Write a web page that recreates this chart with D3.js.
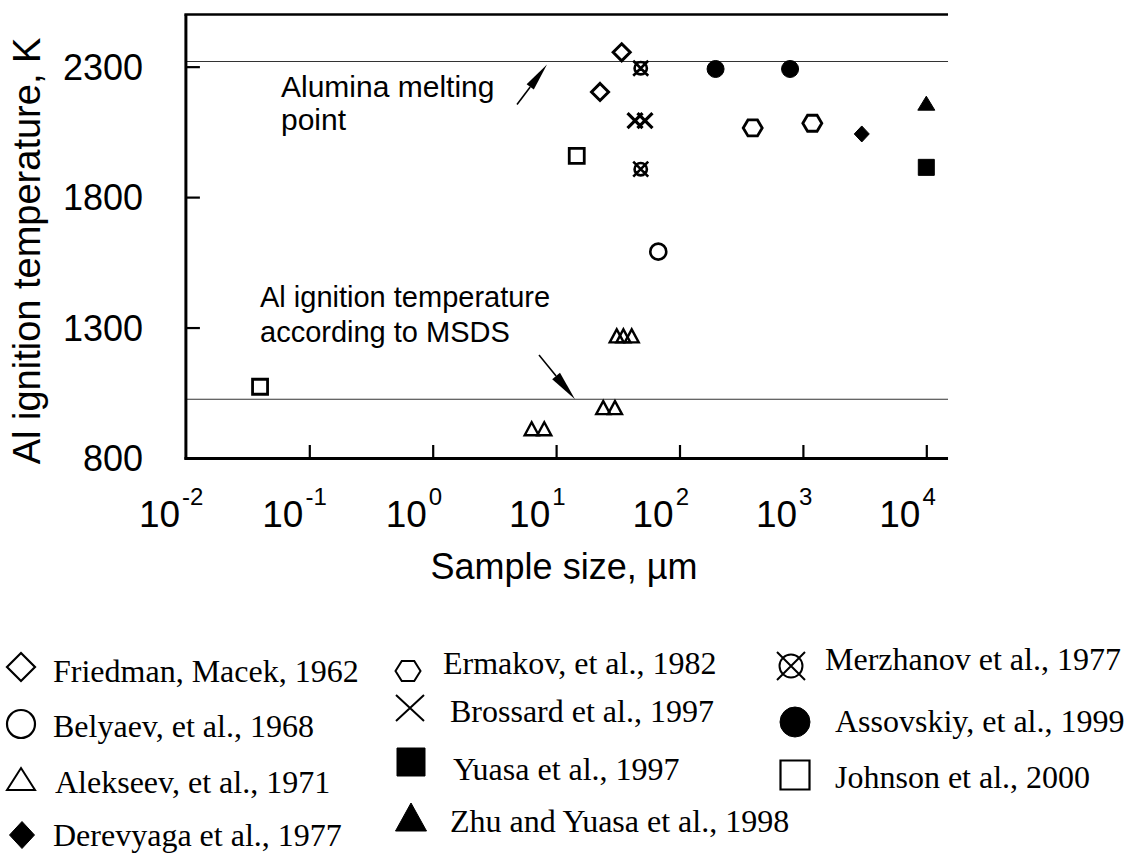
<!DOCTYPE html>
<html><head><meta charset="utf-8">
<script src="https://cdn.jsdelivr.net/npm/d3@7"></script>
<style>body{margin:0;background:#fff}svg{display:block}</style>
</head><body><svg id="c" width="1131" height="853"></svg>
<script>
// ---------------- data ----------------
const xTickValues = [0.01, 0.1, 1, 10, 100, 1000, 10000];
const xTickExponents = ["-2", "-1", "0", "1", "2", "3", "4"];
const yTickValues = [800, 1300, 1800, 2300];
const yTickLabels = ["800", "1300", "1800", "2300"];

const friedman  = [[34, 2355], [22.7, 2203]];
const belyaev   = [[67.3, 1591]];
const alekseev  = [[31, 1268], [35.1, 1268], [41, 1268], [24.1, 993], [30, 993], [6.34, 912], [8.02, 912]];
const derevyaga = [[3000, 2042]];
const ermakov   = [[392, 2065], [1192, 2083]];
const brossard  = [[43.6, 2093], [52.5, 2093]];
const yuasa     = [[10000, 1914]];
const zhu       = [[10000, 2160]];
const merzhanov = [[48.5, 2294], [48.5, 1907]];
const assovskiy = [[196, 2291], [787, 2291]];
const johnson   = [[14.7, 1958], [0.0399, 1073]];

const aluminaMelting = 2320;
const msdsIgnition = 1025;

const seriesNames = ["Friedman, Macek, 1962", "Belyaev, et al., 1968", "Alekseev, et al., 1971", "Derevyaga et al., 1977",
  "Ermakov, et al., 1982", "Brossard et al., 1997", "Yuasa et al., 1997", "Zhu and Yuasa et al., 1998",
  "Merzhanov et al., 1977", "Assovskiy, et al., 1999", "Johnson et al., 2000"];
const seriesData = [friedman, belyaev, alekseev, derevyaga, ermakov, brossard, yuasa, zhu, merzhanov, assovskiy, johnson];

// ---------------- styles / layout ----------------
const seriesStyle = [
  {shape: "diamond", filled: false, w: 17, h: 17, sw: 3},
  {shape: "circle", filled: false, w: 16, h: 16, sw: 2.6},
  {shape: "triangle", filled: false, w: 14, h: 13, sw: 2.4},
  {shape: "diamond", filled: true, w: 15, h: 16, sw: 1},
  {shape: "hexagon", filled: false, w: 19, h: 16, sw: 2.8},
  {shape: "x", filled: false, w: 15, h: 15, sw: 3.2},
  {shape: "square", filled: true, w: 16, h: 16, sw: 1},
  {shape: "triangle", filled: true, w: 17, h: 14, sw: 1},
  {shape: "xcircle", filled: false, w: 15, h: 15, sw: 2.6},
  {shape: "circle", filled: true, w: 17, h: 16, sw: 1},
  {shape: "square", filled: false, w: 15, h: 15, sw: 2.8}
];
const legendStyle = [
  {w: 28, h: 28, sw: 2.2, sx: 21, sy: 667, tx: 53, ty: 682},
  {w: 28, h: 28, sw: 2.2, sx: 21, sy: 724, tx: 53, ty: 737},
  {w: 28, h: 22, sw: 2.0, sx: 21, sy: 779, tx: 55, ty: 793},
  {w: 25, h: 27, sw: 1, sx: 22, sy: 835, tx: 53, ty: 846},
  {w: 25, h: 20, sw: 2.0, sx: 408, sy: 671, tx: 443, ty: 674},
  {w: 28, h: 26, sw: 2.0, sx: 410, sy: 708, tx: 450, ty: 722},
  {w: 28, h: 28, sw: 1, sx: 411, sy: 762, tx: 453, ty: 780},
  {w: 31, h: 28, sw: 1, sx: 411, sy: 817, tx: 450, ty: 832},
  {w: 28, h: 28, sw: 2.0, sx: 791, sy: 666, tx: 825, ty: 670},
  {w: 30, h: 30, sw: 1, sx: 795, sy: 722, tx: 835, ty: 732},
  {w: 29, h: 29, sw: 2.2, sx: 795, sy: 775, tx: 835, ty: 788}
];

const svg = d3.select("#c");
const left = 185.9, decade = 123.4, bottom = 458, kpx = 0.2609;
const x = d3.scaleLog().domain([0.01, 15000]).range([left, left + Math.log10(1.5e6) * decade]);
const y = d3.scaleLinear().domain([800, 2500]).range([bottom, bottom - 1700 * kpx]);
const [x0, x1] = x.range();
const yTop = y(2500);

function shapePath(shape, w, h) {
  const p = d3.path();
  const a = w / 2, b = h / 2;
  if (shape === "diamond") { p.moveTo(0, -b); p.lineTo(a, 0); p.lineTo(0, b); p.lineTo(-a, 0); p.closePath(); }
  else if (shape === "triangle") { p.moveTo(0, -b); p.lineTo(a, b); p.lineTo(-a, b); p.closePath(); }
  else if (shape === "square") { p.rect(-a, -b, w, h); }
  else if (shape === "hexagon") { p.moveTo(-a, 0); p.lineTo(-a / 2, -b); p.lineTo(a / 2, -b); p.lineTo(a, 0); p.lineTo(a / 2, b); p.lineTo(-a / 2, b); p.closePath(); }
  else if (shape === "circle") { p.moveTo(a, 0); p.arc(0, 0, a, 0, 2 * Math.PI); p.closePath(); }
  else if (shape === "x") { p.moveTo(-a, -b); p.lineTo(a, b); p.moveTo(a, -b); p.lineTo(-a, b); }
  else if (shape === "xcircle") { const r = a * 0.82; p.moveTo(r, 0); p.arc(0, 0, r, 0, 2 * Math.PI); p.closePath();
    p.moveTo(-a, -b); p.lineTo(a, b); p.moveTo(a, -b); p.lineTo(-a, b); }
  return p.toString();
}
function drawSymbol(g, st, w, h, sw) {
  g.append("path").attr("d", shapePath(st.shape, w, h))
    .attr("fill", st.filled ? "#000" : "none")
    .attr("stroke", "#000").attr("stroke-width", sw).attr("stroke-linejoin", "miter");
}

// reference lines
[aluminaMelting, msdsIgnition].forEach(v => {
  svg.append("line").attr("x1", x0).attr("x2", x1).attr("y1", y(v)).attr("y2", y(v))
    .attr("stroke", "#333").attr("stroke-width", 1.1);
});

// axes
const gx = svg.append("g").attr("transform", `translate(0,${bottom})`)
  .call(d3.axisBottom(x).tickValues(xTickValues.slice(1)).tickSizeInner(-13).tickSizeOuter(0).tickFormat(""));
gx.select(".domain").attr("stroke-width", 3).attr("d", `M${x0 - 1.5},0.5H${x1}`);
gx.selectAll(".tick line").attr("stroke-width", 2.2);

const gy = svg.append("g").attr("transform", `translate(${left},0)`)
  .call(d3.axisLeft(y).tickValues(yTickValues.slice(1)).tickSizeInner(-14).tickSizeOuter(0).tickFormat(""));
gy.select(".domain").attr("stroke-width", 3).attr("d", `M0,${yTop}V${bottom + 1.5}`);
gy.selectAll(".tick line").attr("stroke-width", 2.2);

svg.append("line").attr("x1", left - 1.5).attr("x2", x1).attr("y1", yTop).attr("y2", yTop)
  .attr("stroke", "#000").attr("stroke-width", 2.6);

// tick labels
const font = "Liberation Sans, Arial, Helvetica, sans-serif";
xTickValues.forEach((v, i) => {
  const t = svg.append("text").attr("x", x(v) - 47).attr("y", 527)
    .attr("font-family", font).attr("font-size", 37).attr("fill", "#000");
  t.append("tspan").text("10");
  t.append("tspan").attr("dx", 2).attr("dy", -22).attr("font-size", 24).text(xTickExponents[i]);
});
yTickValues.forEach((v, i) => {
  svg.append("text").attr("x", 143).attr("y", y(v) + 13).attr("text-anchor", "end")
    .attr("font-family", font).attr("font-size", 36).attr("fill", "#000").text(yTickLabels[i]);
});

// axis titles
svg.append("text").attr("x", 564).attr("y", 579).attr("text-anchor", "middle")
  .attr("font-family", font).attr("font-size", 36).text("Sample size, µm");
svg.append("text").attr("transform", "translate(40,251) rotate(-90)").attr("text-anchor", "middle")
  .attr("font-family", font).attr("font-size", 38).text("Al ignition temperature, K");

// annotations
function annot(lines, tx, ty, lh, fs) {
  const t = svg.append("text").attr("font-family", font).attr("font-size", fs).attr("fill", "#000");
  lines.forEach((s, i) => t.append("tspan").attr("x", tx).attr("y", ty + i * lh).text(s));
}
annot(["Alumina melting", "point"], 281, 97, 32.5, 30);
annot(["Al ignition temperature", "according to MSDS"], 260, 307, 35, 29);

function arrow(xs, ys, xe, ye, headLen, headW) {
  const dx = xe - xs, dy = ye - ys, L = Math.hypot(dx, dy), ux = dx / L, uy = dy / L;
  const bx = xe - ux * headLen, by = ye - uy * headLen;
  svg.append("line").attr("x1", xs).attr("y1", ys).attr("x2", bx).attr("y2", by)
    .attr("stroke", "#000").attr("stroke-width", 1.6);
  const px = -uy * headW / 2, py = ux * headW / 2;
  svg.append("path").attr("d", `M${xe},${ye}L${bx + px},${by + py}L${bx - px},${by - py}Z`).attr("fill", "#000");
}
arrow(517, 104.5, 547, 64.5, 28, 9);
arrow(539, 355, 575, 399.3, 30, 10);

// data points
seriesData.forEach((data, si) => {
  const st = seriesStyle[si];
  data.forEach(d => {
    const g = svg.append("g").attr("transform", `translate(${x(d[0])},${y(d[1])})`);
    drawSymbol(g, st, st.w, st.h, st.sw);
  });
});

// legend
const serif = "Liberation Serif, Times New Roman, serif";
seriesNames.forEach((name, si) => {
  const st = seriesStyle[si], L = legendStyle[si];
  const g = svg.append("g").attr("transform", `translate(${L.sx},${L.sy})`);
  drawSymbol(g, st, L.w, L.h, L.sw);
  svg.append("text").attr("x", L.tx).attr("y", L.ty).attr("font-family", serif)
    .attr("font-size", 32).attr("fill", "#000").text(name);
});
</script></body></html>
